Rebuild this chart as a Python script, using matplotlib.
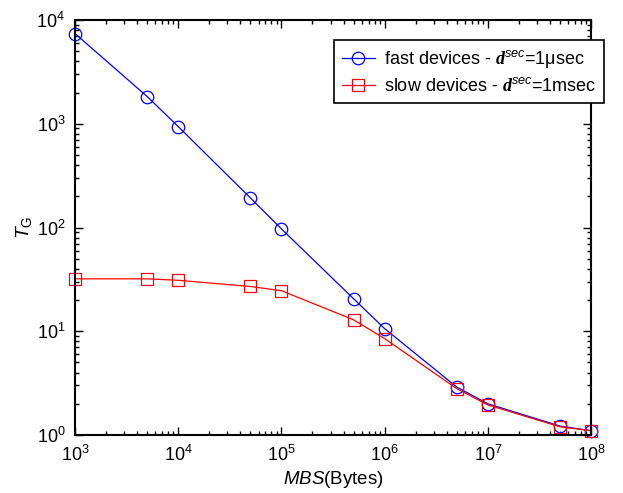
import matplotlib
matplotlib.use("Agg")
import matplotlib.pyplot as plt
from matplotlib.ticker import LogLocator, NullFormatter

plt.rcParams['font.family'] = ['Liberation Sans', 'DejaVu Sans']
plt.rcParams['mathtext.fontset'] = 'custom'
plt.rcParams['mathtext.rm'] = 'Liberation Sans'
plt.rcParams['mathtext.it'] = 'Liberation Sans:italic'
plt.rcParams['mathtext.bf'] = 'Liberation Serif:italic:bold'

# Message block size (bytes)
mbs = [1e3, 5e3, 1e4, 5e4, 1e5, 5e5, 1e6, 5e6, 1e7, 5e7, 1e8]
# T_G for fast devices (d_sec = 1 usec)
tg_fast = [7400, 1830, 940, 193, 97, 20.6, 10.6, 2.9, 2.0, 1.22, 1.1]
# T_G for slow devices (d_sec = 1 msec)
tg_slow = [32, 32, 31, 27, 24.6, 12.9, 8.5, 2.8, 1.95, 1.2, 1.1]

label_fast = r'fast devices - $\mathbf{d}^{\mathit{sec}}$=1$\mathrm{\mu}$sec'
label_slow = r'slow devices - $\mathbf{d}^{\mathit{sec}}$=1msec'

fig = plt.figure(figsize=(6.23, 4.93), dpi=100)
ax = fig.add_axes([75/623, 1 - 435/493, (591-75)/623, (435-20)/493])

ax.loglog(mbs, tg_fast, color='blue', lw=0.9, marker='o', ms=9,
          mfc='none', mec='blue', mew=0.9, label=label_fast, clip_on=False)
ax.loglog(mbs, tg_slow, color='red', lw=0.9, marker='s', ms=8.8,
          mfc='none', mec='red', mew=0.9, label=label_slow, clip_on=False)

ax.set_xlim(1e3, 1e8)
ax.set_ylim(1e0, 1e4)
ax.xaxis.set_major_locator(LogLocator(base=10, numticks=10))
ax.yaxis.set_major_locator(LogLocator(base=10, numticks=10))
ax.xaxis.set_minor_locator(LogLocator(base=10, subs=range(2, 10), numticks=20))
ax.yaxis.set_minor_locator(LogLocator(base=10, subs=range(2, 10), numticks=20))
ax.xaxis.set_minor_formatter(NullFormatter())
ax.yaxis.set_minor_formatter(NullFormatter())

ax.tick_params(which='both', direction='in', top=True, right=True, labelsize=13, width=1)
ax.tick_params(which='major', length=6, pad=7)
ax.tick_params(which='minor', length=3)
for s in ax.spines.values():
    s.set_linewidth(1.5)

ax.set_xlabel(r'$\mathit{MBS}$(Bytes)', fontsize=13.5, labelpad=3)
ax.set_ylabel(r'$\mathit{T}_{\mathrm{G}}$', fontsize=14, labelpad=2)

leg = ax.legend(loc='upper left', bbox_to_anchor=(334/623, 1 - 40/493),
                bbox_transform=fig.transFigure, fontsize=13, frameon=True,
                fancybox=False, edgecolor='black', framealpha=1,
                handlelength=1.8, handletextpad=0.5, borderpad=0.45,
                borderaxespad=0, labelspacing=0.4)
leg.get_frame().set_linewidth(1.2)

fig.savefig('out.png', dpi=100)
